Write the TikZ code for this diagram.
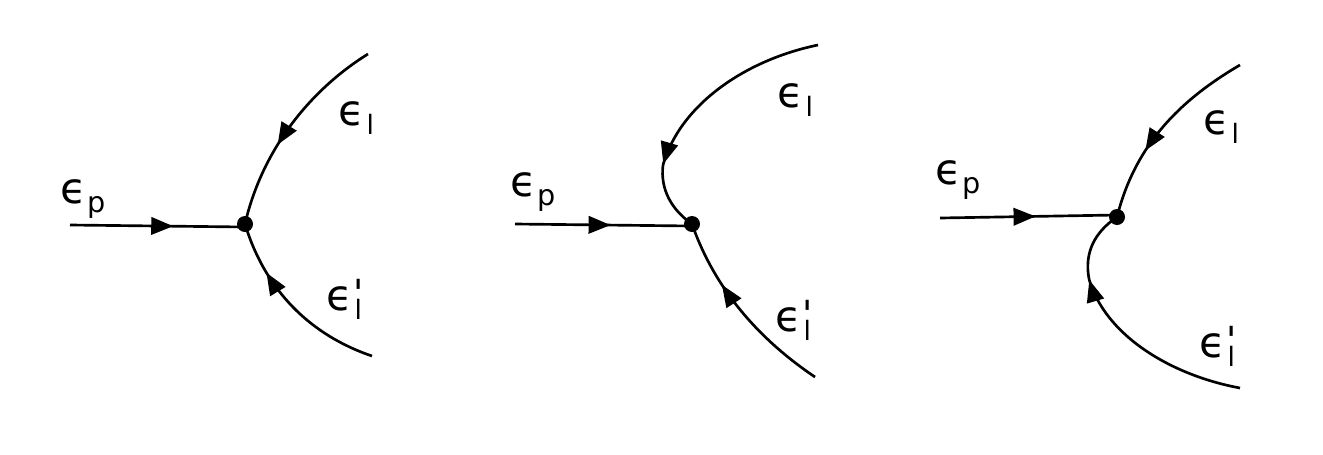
\documentclass[tikz,border=0pt]{standalone}
\usepackage{fontspec}
\setmainfont{DejaVu Sans}
\newfontfamily\primafont{DejaVu Sans}
\usepackage{pgf,tikz}
\newcommand{\subind}[2][20]{\raisebox{-7pt}{\fontsize{#1}{#1}\selectfont #2}}
\newcommand{\epsp}{ϵ\kern0.5pt\subind[21.5]{p}}
\newcommand{\epsl}{ϵ\kern1.5pt\subind{l}}
\newcommand{\epsprima}{ϵ\kern1.5pt\rlap{\kern-1pt\raisebox{3pt}{\fontsize{28}{28}\primafont '}}\subind{l}}
\usetikzlibrary{arrows.meta, decorations.markings}
\tikzstyle{linea} = [line width=2pt]
\tikzstyle{flecha}[0.5] = [postaction={decorate}, decoration={markings, mark=at position #1 with {\arrow{Triangle[length=16.5pt,width=13pt]}}}]
\tikzstyle{vertice} = [circle, fill=black, inner sep=0pt, minimum size=12pt]
\tikzstyle{etiqueta} = [anchor=base west, inner sep=0pt, font=\fontsize{32}{32}\selectfont]

\begin{document}
\begin{tikzpicture}[x=0.75pt, y=-0.75pt]
	\useasboundingbox (0,0) rectangle (1323,454);
	% left
	\node [vertice] (v1) at (245,224) {};
	\coordinate (p1) at (70,225);
	\coordinate (q1) at (245,227);
	\coordinate (a1) at (368,54);
	\coordinate (b1) at (372,356);
	\draw [linea, flecha=0.59] (p1) -- (q1);
	\draw [linea, flecha=0.6] (a1) .. controls (310,90) and (262,150) .. (v1.center);
	\draw [linea, flecha=0.72] (b1) .. controls (310,335) and (265,290) .. (v1.center);
	\node [etiqueta] (ep1) at (60,203) {\epsp};
	\node [etiqueta] (el1) at (338,125) {\epsl};
	\node [etiqueta] (elp1) at (326,310) {\epsprima};
	% center
	\node [vertice] (v2) at (692,224) {};
	\coordinate (p2) at (515,224);
	\coordinate (q2) at (692,226);
	\coordinate (a2) at (818,45);
	\coordinate (c2) at (663,165);
	\coordinate (b2) at (815,377);
	\draw [linea, flecha=0.54] (p2) -- (q2);
	\draw [linea, flecha=0.995] (a2) .. controls (745,60) and (680,105) .. (c2);
	\draw [linea] (c2) .. controls (660,190) and (672,210) .. (v2.center);
	\draw [linea, flecha=0.66] (b2) .. controls (760,340) and (715,290) .. (v2.center);
	\node [etiqueta] (ep2) at (510,196) {\epsp};
	\node [etiqueta] (el2) at (777,107) {\epsl};
	\node [etiqueta] (elp2) at (775,331) {\epsprima};
	% right
	\node [vertice] (v3) at (1117,217) {};
	\coordinate (p3) at (940,218);
	\coordinate (q3) at (1117,215);
	\coordinate (a3) at (1240,65);
	\coordinate (b3) at (1240,388);
	\coordinate (c3) at (1089,279);
	\draw [linea, flecha=0.54] (p3) -- (q3);
	\draw [linea, flecha=0.64] (a3) .. controls (1180,100) and (1135,145) .. (v3.center);
	\draw [linea, flecha=0.995] (b3) .. controls (1170,375) and (1105,335) .. (c3);
	\draw [linea] (c3) .. controls (1084,252) and (1095,232) .. (v3.center);
	\node [etiqueta] (ep3) at (935,184) {\epsp};
	\node [etiqueta] (el3) at (1203,134) {\epsl};
	\node [etiqueta] (elp3) at (1199,357) {\epsprima};
\end{tikzpicture}
\end{document}
